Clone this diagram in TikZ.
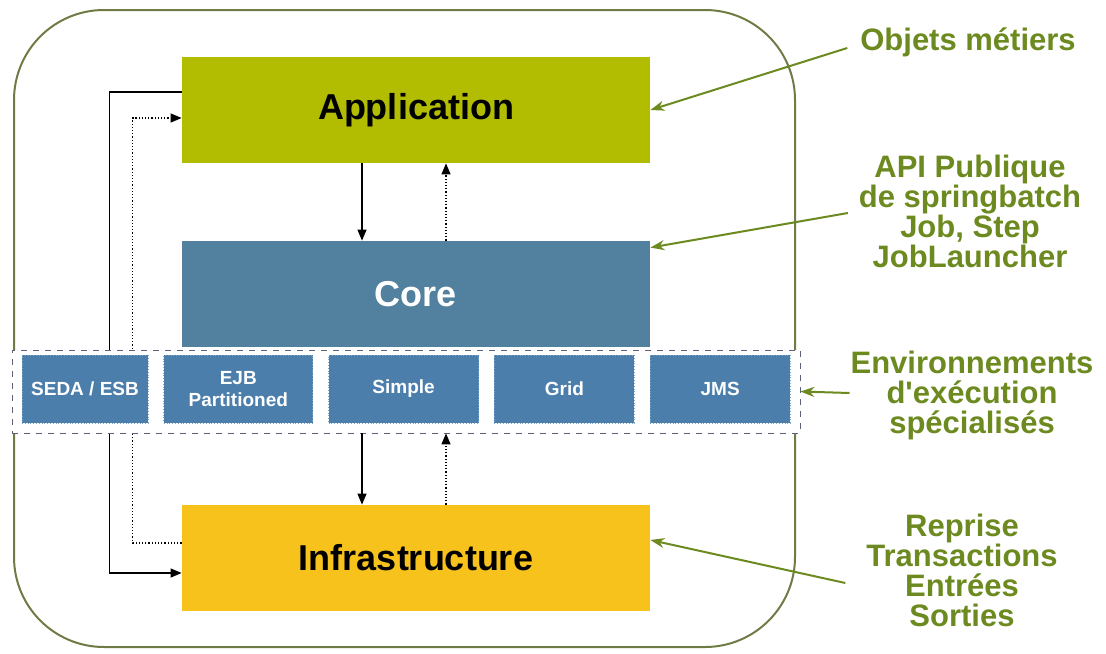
\documentclass[tikz,border=0pt]{standalone}
\usepackage{xcolor}
\usepackage{fontspec}
\setmainfont{Liberation Sans}
\usepackage{tikz}
\usetikzlibrary{arrows.meta,positioning,backgrounds}

\definecolor{appcol}{HTML}{B2BC00}
\definecolor{corecol}{HTML}{52809F}
\definecolor{infracol}{HTML}{F8C21C}
\definecolor{envcol}{HTML}{4B7EAA}
\definecolor{envedge}{HTML}{7FA6CC}
\definecolor{bandcol}{HTML}{5A6178}
\definecolor{notecol}{HTML}{6C8A1F}
\definecolor{framecol}{HTML}{6E7B45}

\begin{document}
\begin{tikzpicture}[x=0.5pt,y=-0.5pt,
    layer/.style={minimum width=234pt, minimum height=53pt, inner sep=0pt, font=\fontsize{18}{18}\selectfont\bfseries},
    envbox/.style={draw=envedge, densely dotted, fill=envcol, inner sep=2pt, minimum height=34pt, text=white, align=center, font=\fontsize{9.5}{11}\selectfont\bfseries},
    note/.style={text=notecol, align=center, font=\fontsize{15.5}{15}\selectfont\bfseries},
    notearrow/.style={draw=notecol, line width=1pt, -{Stealth[length=7pt,width=5pt]}},
    flow/.style={line width=0.6pt, -{Triangle[length=5.5pt,width=4.5pt]}}]
      \useasboundingbox (0,0) rectangle (1106,653);
      \draw[framecol, line width=1pt, rounded corners=45pt] (14,10) rectangle (795,647);

      \node[layer, fill=appcol] (app) at (416,110) {Application};
      \node[layer, fill=corecol, text=white] (core) at (416,294) {Core};
      \node[layer, fill=infracol] (infra) at (416,558) {Infrastructure};

      \node[draw=bandcol, dashed, fill=white, minimum width=394pt, minimum height=41.5pt] (band) at (406,391.5) {};
      \node[envbox, minimum width=63pt] (seda) at (85,389) {SEDA / ESB};
      \node[envbox, minimum width=74.5pt, right=7.5pt of seda] (ejb) {EJB\\Partitioned};
      \node[envbox, minimum width=75pt, right=7.5pt of ejb] (simple) {Simple};
      \node[envbox, minimum width=70pt, right=7.5pt of simple] (grid) {Grid};
      \node[envbox, minimum width=70pt, right=7.5pt of grid] (jms) {JMS};

      \coordinate (downx) at (362,0);
      \coordinate (upx) at (446,0);
      \draw[flow] (app.south -| downx) -- (core.north -| downx);
      \draw[flow, densely dotted] (core.north -| upx) -- (app.south -| upx);
      \draw[flow] (band.south -| downx) -- (infra.north -| downx);
      \draw[flow, densely dotted] (infra.north -| upx) -- (band.south -| upx);

      \begin{scope}[on background layer]
        \draw[flow] ([yshift=9pt]app.west) -- ++(-72,0) |- ([yshift=-7.5pt]infra.west);
        \draw[flow, densely dotted] ([yshift=7.5pt]infra.west) -- ++(-49,0) |- ([yshift=-4pt]app.west);
      \end{scope}

      \node[note] (objets) at (968,42) {Objets métiers};
      \node[note] (api) at (970,211) {API Publique\\de springbatch\\Job, Step\\JobLauncher};
      \node[note] (envnote) at (972,395) {Environnements\\d\textquotesingle exécution\\spécialisés};
      \node[note] (reprise) at (962,570) {Reprise\\Transactions\\Entrées\\Sorties};

      \draw[notearrow] ([shift={(-6,6)}]objets.west) -- (app.east);
      \draw[notearrow] ([shift={(-4,2)}]api.west) -- ([yshift=-3.5pt]core.north east);
      \draw[notearrow] ([shift={(6,-2)}]envnote.west) -- (band.east);
      \draw[notearrow] ([shift={(-14,13)}]reprise.west) -- ([yshift=9pt]infra.east);
    \end{tikzpicture}
\end{document}
